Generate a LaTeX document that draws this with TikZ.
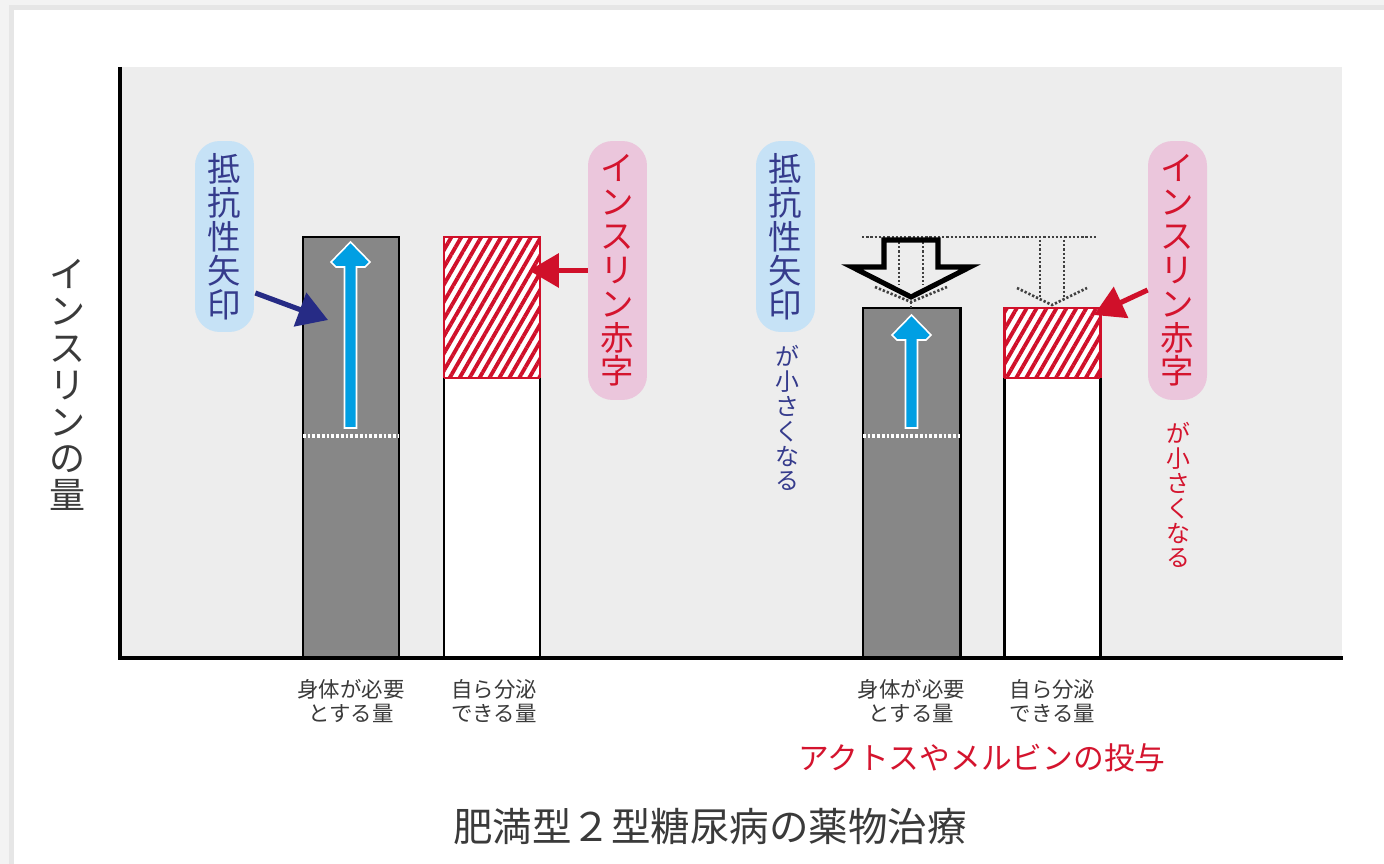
\documentclass[tikz,border=0pt]{standalone}
\usepackage{fontspec}
\newfontfamily\jp{Noto Sans CJK JP}
\usetikzlibrary{arrows.meta,patterns.meta,calc}
\definecolor{pagebg}{HTML}{F3F3F3}
\definecolor{shadowc}{HTML}{E6E6E6}
\definecolor{plotbg}{HTML}{EDEDED}
\definecolor{bargray}{HTML}{878787}
\definecolor{hatchred}{HTML}{D0102A}
\definecolor{navyc}{HTML}{262B85}
\definecolor{bluecall}{HTML}{C6E2F6}
\definecolor{pinkcall}{HTML}{EBC6DC}
\definecolor{arrowblue}{HTML}{009FE3}
\definecolor{txtgray}{HTML}{3A3A3A}
\definecolor{redtxt}{HTML}{D4142E}
\definecolor{navytxt}{HTML}{353B8C}
\definecolor{dotc}{HTML}{404040}
\begin{document}
\begin{tikzpicture}[x=0.02cm,y=-0.02cm,
  callblue/.style={fill=bluecall, rounded corners=14pt, minimum width=1.18cm, inner sep=0pt, text=navytxt, align=center, font=\jp\fontsize{19}{19.3}\selectfont},
  callpink/.style={fill=pinkcall, rounded corners=14pt, minimum width=1.18cm, inner sep=0pt, text=redtxt, align=center, font=\jp\fontsize{19}{19.3}\selectfont},
  smallv/.style={align=center, inner sep=0pt, font=\jp\fontsize{13.6}{14.2}\selectfont},
  barlabel/.style={align=center, inner sep=0pt, text=txtgray, font=\jp\fontsize{12.2}{14}\selectfont},
  grayframe/.style={fill=bargray, draw=black, line width=1.7pt},
  whitebar/.style={fill=white, draw=black, line width=1.7pt},
  hatchfill/.style={pattern={Lines[angle=60,distance=4.9pt,line width=2.2pt]}, pattern color=hatchred},
  whitedots/.style={white, line width=2pt, dash pattern=on 1.5pt off 1.2pt},
  darkdots/.style={dotc, line width=1.5pt, dash pattern=on 1.3pt off 1.1pt},
  bluearrow/.style={fill=arrowblue, draw=white, line width=0.9pt, line join=miter},
  navyarrow/.style={navyc, line width=2.9pt, -{Triangle[length=17pt,width=20pt]}},
  redarrow/.style={hatchred, line width=2.9pt, -{Triangle[length=17pt,width=19pt]}},
]
\useasboundingbox (0,0) rectangle (1384,864);
% page and card
\fill[pagebg] (0,0) rectangle (1384,864);
\fill[shadowc] (9,5) rectangle (1384,864);
\fill[white] (14,10) rectangle (1384,864);
% plot area
\fill[plotbg] (120,67) rectangle (1342,658);

% ---- left group ----
\draw[grayframe] (303,237) rectangle (399,658);
\draw[whitedots] (303,436) -- (399,436);
\draw[bluearrow] (344.5,428) -- (344.5,267) -- (336,267) -- (331,262) -- (350.5,242) -- (370,262) -- (365,267) -- (356.5,267) -- (356.5,428) -- cycle;
\draw[whitebar] (444,378) rectangle (540,658);
\fill[white] (444,237) rectangle (540,378);
\fill[hatchfill] (444,237) rectangle (540,378);
\draw[hatchred, line width=1.7pt] (444,378) -- (444,237) -- (540,237) -- (540,378);
\draw[hatchred, line width=1.7pt] (444,378) -- (540,378);

\node[callblue, minimum height=3.82cm] (cb1) at (224.5,236.5) {抵\\抗\\性\\矢\\印};
\node[callpink, minimum height=5.18cm] (cp1) at (617.5,270.5) {イ\\ン\\ス\\リ\\ン\\赤\\字};
\coordinate (t1) at (328,320);
\coordinate (t2) at (529,270.5);
\draw[navyarrow] ($(cb1.east)+(1,56.5)$) -- (t1);
\draw[redarrow] (cp1.west) -- (t2);

% ---- right group ----
\draw[grayframe] (863,308) rectangle (960,658);
\draw[whitedots] (863,436) -- (960,436);
\draw[bluearrow] (905.5,428) -- (905.5,340) -- (897,340) -- (892,335) -- (911.5,315) -- (931,335) -- (926,340) -- (917.5,340) -- (917.5,428) -- cycle;
\draw[whitebar] (1004,378) rectangle (1100,658);
\fill[white] (1004,308) rectangle (1100,378);
\fill[hatchfill] (1004,308) rectangle (1100,378);
\draw[hatchred, line width=1.7pt] (1004,378) -- (1004,308) -- (1100,308) -- (1100,378);
\draw[hatchred, line width=1.7pt] (1004,378) -- (1100,378);

% dotted reference and arrows
\draw[darkdots] (862,237) -- (1098,237);
\draw[darkdots] (899,242) -- (899,285);
\draw[darkdots] (923,242) -- (923,285);
\draw[darkdots] (875,287) -- (911,302) -- (947,287);
\draw[darkdots] (911,302) -- (911,308);
\draw[darkdots] (1040,240) -- (1040,298);
\draw[darkdots] (1064,240) -- (1064,298);
\draw[darkdots] (1017,288) -- (1052,305) -- (1087,288);
\draw[black, line width=2.9pt, line join=miter] (884,240) -- (938,240) -- (938,267) -- (970,267) -- (911,297) -- (852,267) -- (884,267) -- cycle;

\node[callblue, minimum height=3.82cm] (cb2) at (785.5,236.5) {抵\\抗\\性\\矢\\印};
\node[callpink, minimum height=5.18cm] (cp2) at (1177.5,270.5) {イ\\ン\\ス\\リ\\ン\\赤\\字};
\node[smallv, text=navytxt] (sm1) at (787,418) {が\\小\\さ\\く\\な\\る};
\node[smallv, text=redtxt] (sm2) at (1178,495) {が\\小\\さ\\く\\な\\る};
\coordinate (t3) at (1094,315);
\draw[redarrow] ($(cp2.west)+(0,19.5)$) -- (t3);

% axes
\draw[black, line width=2.8pt] (120,67) -- (120,660);
\draw[black, line width=2.3pt] (118,658) -- (1343,658);

% labels
\node[align=center, inner sep=0pt, text=txtgray, font=\jp\fontsize{20.5}{21}\selectfont] (ylab) at (68,385) {イ\\ン\\ス\\リ\\ン\\の\\量};
\node[barlabel] (l1) at (351,701) {身体が必要\\とする量};
\node[barlabel] (l2) at (494,701) {自ら分泌\\できる量};
\node[barlabel] (l3) at (911.5,701) {身体が必要\\とする量};
\node[barlabel] (l4) at (1052.5,701) {自ら分泌\\できる量};
\node[inner sep=0pt, text=redtxt, font=\jp\fontsize{17.5}{18}\selectfont] (drug) at (982,758) {アクトスやメルビンの投与};
\node[inner sep=0pt, text=txtgray, font=\jp\fontsize{22.5}{23}\selectfont] (title) at (710,826) {肥満型２型糖尿病の薬物治療};
\end{tikzpicture}
\end{document}
